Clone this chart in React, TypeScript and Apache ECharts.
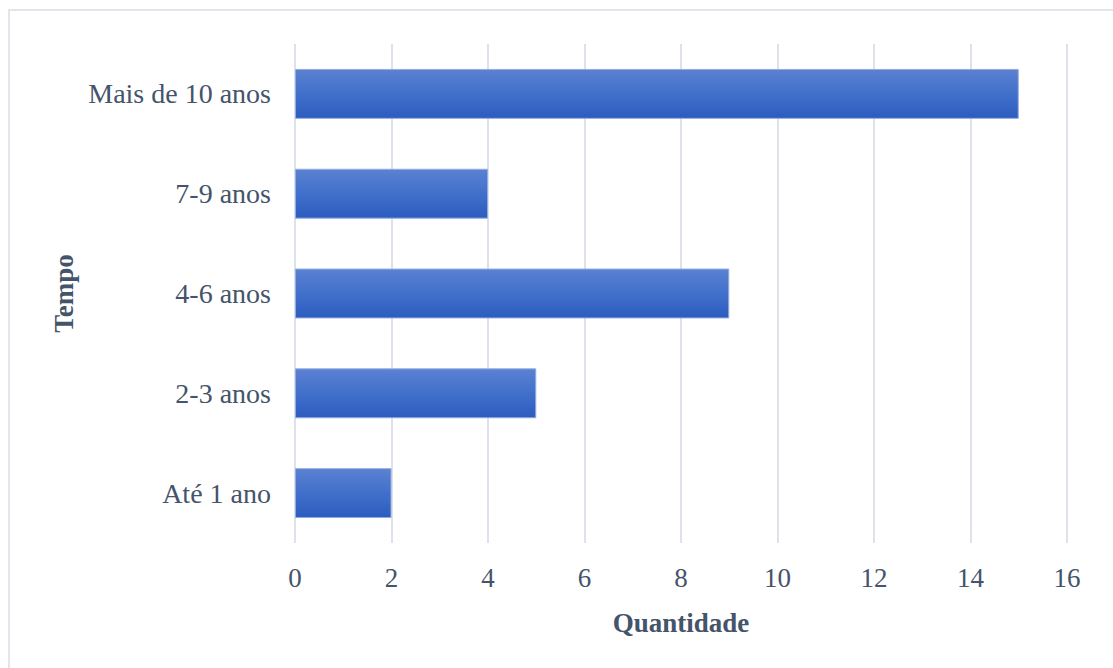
import React, { useEffect, useRef } from "react";
import * as echarts from "echarts";

const categories = ["Até 1 ano", "2-3 anos", "4-6 anos", "7-9 anos", "Mais de 10 anos"];
const quantities = [2, 5, 9, 4, 15];
const xMin = 0;
const xMax = 16;
const xStep = 2;

const FONT = "'Liberation Serif', 'Times New Roman', serif";
const TEXT = "#44546a";

export default function App() {
  const ref = useRef<HTMLDivElement>(null);

  useEffect(() => {
    if (!ref.current) return;
    const chart = echarts.init(ref.current, null, { renderer: "svg" });
    chart.setOption({
      animation: false,
      backgroundColor: "#ffffff",
      graphic: [
        {
          type: "rect",
          shape: { x: 9, y: 10, width: 1200, height: 800 },
          style: { fill: "none", stroke: "#e1e5ec", lineWidth: 2 },
          silent: true,
        },
      ],
      grid: { left: 295, right: 46, top: 44, bottom: 125 },
      xAxis: {
        type: "value",
        min: xMin,
        max: xMax,
        interval: xStep,
        name: "Quantidade",
        nameLocation: "middle",
        nameGap: 66,
        nameTextStyle: { fontFamily: FONT, fontSize: 27, fontWeight: "bold", color: TEXT },
        axisLine: { show: false },
        axisTick: { show: false },
        axisLabel: { fontFamily: FONT, fontSize: 27, color: TEXT, margin: 21 },
        splitLine: { show: true, lineStyle: { color: "#dde1ea", width: 2 } },
      },
      yAxis: {
        type: "category",
        data: categories,
        name: "Tempo",
        nameLocation: "middle",
        nameGap: 216,
        nameRotate: 90,
        nameTextStyle: { fontFamily: FONT, fontSize: 27, fontWeight: "bold", color: TEXT },
        axisLine: { show: false },
        axisTick: { show: false },
        axisLabel: { fontFamily: FONT, fontSize: 28, color: TEXT, margin: 24 },
        splitLine: { show: false },
      },
      series: [
        {
          type: "bar",
          data: quantities,
          barWidth: "50%",
          itemStyle: {
            color: new echarts.graphic.LinearGradient(0, 0, 0, 1, [
              { offset: 0, color: "#5b81d1" },
              { offset: 0.5, color: "#4170cb" },
              { offset: 1, color: "#2c5cbe" },
            ]),
            borderColor: "#92ace3",
            borderWidth: 1,
          },
        },
      ],
    });
    return () => chart.dispose();
  }, []);

  return (
    <div
      ref={ref}
      style={{ position: "fixed", left: 0, top: 0, width: 1113, height: 668 }}
    />
  );
}
